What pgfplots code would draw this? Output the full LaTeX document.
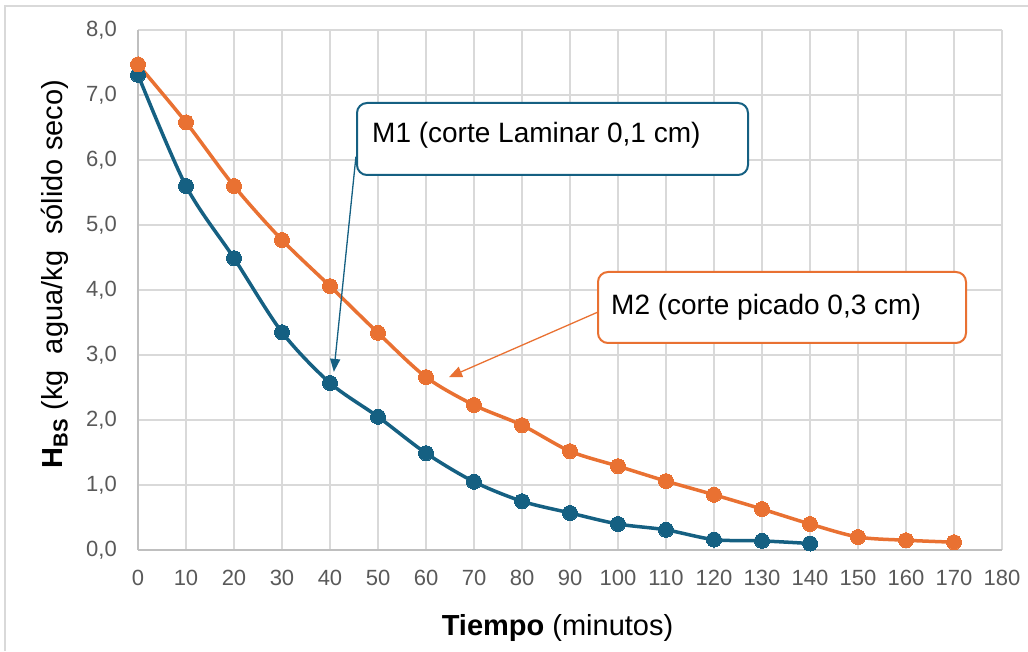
\documentclass[border=0pt]{standalone}
\usepackage{pgfplots}
\pgfplotsset{compat=1.18}
\usepackage{fontspec}
\setmainfont{Liberation Sans}
\usetikzlibrary{arrows.meta}
\definecolor{cblue}{HTML}{156082}
\definecolor{corange}{HTML}{E97132}
\definecolor{gridc}{HTML}{D9D9D9}
\definecolor{axc}{HTML}{BFBFBF}
\definecolor{tickc}{HTML}{595959}
\begin{document}
\begin{tikzpicture}[x=1pt,y=1pt]
\useasboundingbox (0,0) rectangle (1028,651);
\draw[gridc, line width=1.2pt] (5,0) -- (5,645) -- (1028,645);
\begin{axis}[
 at={(138pt,101pt)}, anchor=south west, scale only axis, width=864pt, height=520pt,
 xmin=0,xmax=180,ymin=0,ymax=8,
 xtick={0,10,...,180}, ytick={0,1,...,8},
 grid=major, major grid style={draw=gridc, line width=1.3pt},
 axis lines*=left, axis line style={-, draw=axc, line width=1.5pt},
 major tick length=0pt,
 /pgf/number format/assume math mode=true,
 tick label style={font=\fontsize{22}{26}\selectfont, text=tickc},
 xticklabel style={anchor=north, inner sep=0pt, yshift=-20pt},
 yticklabel style={anchor=east, inner sep=0pt, xshift=-21pt, /pgf/number format/.cd, fixed, fixed zerofill, precision=1, use comma},
 clip=false,
]
\addplot[cblue, line width=3.5pt, smooth, tension=0.5, mark=*, mark size=7.5pt, mark options={fill=cblue, draw=cblue, line width=0pt}] coordinates {
(0,7.31)(10,5.60)(20,4.49)(30,3.35)(40,2.57)(50,2.05)(60,1.49)(70,1.05)(80,0.75)(90,0.57)(100,0.40)(110,0.31)(120,0.16)(130,0.14)(140,0.10)};
\addplot[corange, line width=3.5pt, smooth, tension=0.5, mark=*, mark size=7.5pt, mark options={fill=corange, draw=corange, line width=0pt}] coordinates {
(0,7.47)(10,6.58)(20,5.60)(30,4.77)(40,4.06)(50,3.34)(60,2.66)(70,2.23)(80,1.92)(90,1.52)(100,1.29)(110,1.06)(120,0.85)(130,0.63)(140,0.40)(150,0.20)(160,0.15)(170,0.12)};
\draw[cblue, line width=1.3pt, -{Triangle[length=13pt,width=10pt]}] (axis cs:45.4,6.05) -- (axis cs:40.8,2.74);
\draw[corange, line width=1.3pt, -{Triangle[length=13pt,width=11pt]}] (axis cs:95.8,3.66) -- (axis cs:64.8,2.66);
\end{axis}
\draw[cblue, line width=2pt, fill=white, rounded corners=10pt] (357,476) rectangle (748,548);
\node[anchor=base west, inner sep=0pt, font=\fontsize{28}{32}\selectfont] at (372,508) {M1 (corte Laminar 0,1 cm)};
\draw[corange, line width=2pt, fill=white, rounded corners=10pt] (598,308) rectangle (966,379);
\node[anchor=base west, inner sep=0pt, font=\fontsize{28}{32}\selectfont] at (611,336) {M2 (corte picado 0,3 cm)};
\node[anchor=base, inner sep=0pt, font=\fontsize{29}{34}\selectfont] at (557.5,16) {\textbf{Tiempo} (minutos)};
\node[rotate=90, anchor=base, inner sep=0pt, font=\fontsize{29}{34}\selectfont] at (62,377) {\textbf{H}\textsubscript{\textbf{BS}} (kg\ \ agua/kg\ \ sólido seco)};
\end{tikzpicture}
\end{document}
